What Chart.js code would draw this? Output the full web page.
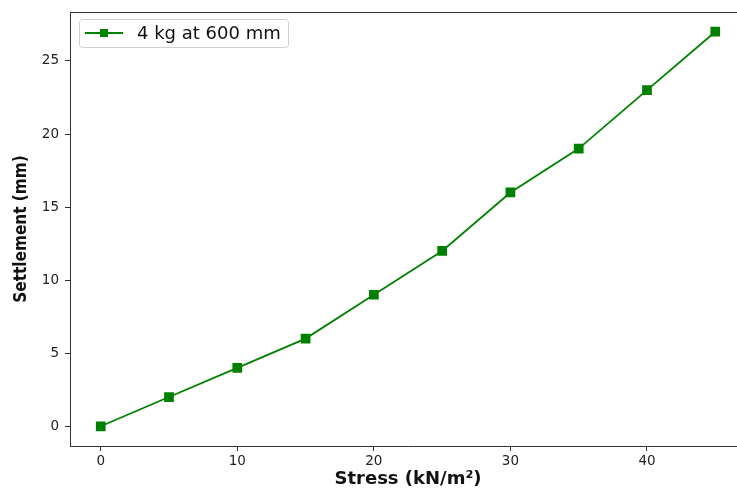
<!DOCTYPE html>
<html>
<head>
<meta charset="utf-8">
<script src="https://cdn.jsdelivr.net/npm/chart.js@4"></script>
<style>
  html, body { margin: 0; padding: 0; background: #fff; overflow: hidden; width: 737px; height: 488px; }
  #wrap { width: 760px; height: 488px; }
</style>
</head>
<body>
<div id="wrap"><canvas id="chart" width="760" height="488"></canvas></div>
<script>
// data
var stress = [0, 5, 10, 15, 20, 25, 30, 35, 40, 45];
var settlement = [0, 2, 4, 6, 9, 12, 16, 19, 23, 27];
var seriesLabel = '4 kg at 600 mm';
var xTicks = [0, 10, 20, 30, 40];
var yTicks = [0, 5, 10, 15, 20, 25];

var green = '#008000';

// top/right frame like a matplotlib axes box, plus the legend inside the plot
var framePlugin = {
    id: 'frame',
    afterDraw: function(chart) {
        var ctx = chart.ctx;
        var a = chart.chartArea;
        ctx.save();
        ctx.strokeStyle = '#333';
        ctx.lineWidth = 1;
        ctx.beginPath();
        ctx.moveTo(a.left, a.top + 0.5);
        ctx.lineTo(a.right, a.top + 0.5);
        ctx.lineTo(a.right - 0.5, a.bottom);
        ctx.stroke();

        // legend box
        var bx = 79, by = 19, bw = 209, bh = 28;
        ctx.fillStyle = 'rgba(255,255,255,0.8)';
        ctx.strokeStyle = '#d0d0d0';
        ctx.beginPath();
        ctx.roundRect(bx + 0.5, by + 0.5, bw, bh, 3);
        ctx.fill();
        ctx.stroke();
        ctx.strokeStyle = green;
        ctx.lineWidth = 1.8;
        ctx.beginPath();
        ctx.moveTo(85, 33);
        ctx.lineTo(123, 33);
        ctx.stroke();
        ctx.fillStyle = green;
        ctx.fillRect(100, 29, 8, 8);
        ctx.fillStyle = '#111';
        ctx.font = '18px "DejaVu Sans"';
        ctx.textBaseline = 'middle';
        ctx.fillText(seriesLabel, 137, 34);
        ctx.restore();
    }
};

var ctx = document.getElementById('chart').getContext('2d');
var chart = new Chart(ctx, {
    type: 'line',
    data: {
        labels: stress,
        datasets: [{
            label: seriesLabel,
            data: stress.map(function(x, i) { return { x: x, y: settlement[i] }; }),
            borderColor: green,
            backgroundColor: green,
            borderWidth: 1.8,
            pointStyle: 'rect',
            pointRadius: 5.6,
            pointHoverRadius: 5.6,
            tension: 0
        }]
    },
    options: {
        responsive: false,
        animation: false,
        events: [],
        layout: { padding: { top: 12, right: 14, left: 0, bottom: 0 } },
        plugins: {
            legend: { display: false },
            tooltip: { enabled: false }
        },
        scales: {
            x: {
                type: 'linear',
                min: -2.25,
                max: 47.25,
                afterBuildTicks: function(scale) {
                    scale.ticks = xTicks.map(function(v) { return { value: v }; });
                },
                afterFit: function(scale) { scale.height = 42; },
                grid: { drawOnChartArea: false, drawTicks: true, tickLength: 5, color: '#333' },
                border: { color: '#333', width: 1 },
                ticks: { color: '#222', font: { family: 'DejaVu Sans', size: 13.5 }, padding: 2, maxRotation: 0 },
                title: {
                    display: true,
                    text: 'Stress (kN/m²)',
                    color: '#111',
                    font: { family: 'DejaVu Sans', size: 18, weight: 'bold', lineHeight: 1 },
                    padding: { top: 0, bottom: 0 }
                }
            },
            y: {
                type: 'linear',
                min: -1.35,
                max: 28.35,
                afterBuildTicks: function(scale) {
                    scale.ticks = yTicks.map(function(v) { return { value: v }; });
                },
                afterFit: function(scale) {
                    scale.width = 70;
                    scale.paddingTop = 0;
                    scale.paddingBottom = 0;
                },
                grid: { drawOnChartArea: false, drawTicks: true, tickLength: 5, color: '#333' },
                border: { color: '#333', width: 1 },
                ticks: { color: '#222', font: { family: 'DejaVu Sans', size: 13.5 }, padding: 6 },
                title: {
                    display: true,
                    text: 'Settlement (mm)',
                    color: '#111',
                    font: { family: 'DejaVu Sans Condensed', size: 17, weight: 'bold' },
                    padding: { top: 11, bottom: 0 }
                }
            }
        }
    },
    plugins: [framePlugin]
});
</script>
</body>
</html>
